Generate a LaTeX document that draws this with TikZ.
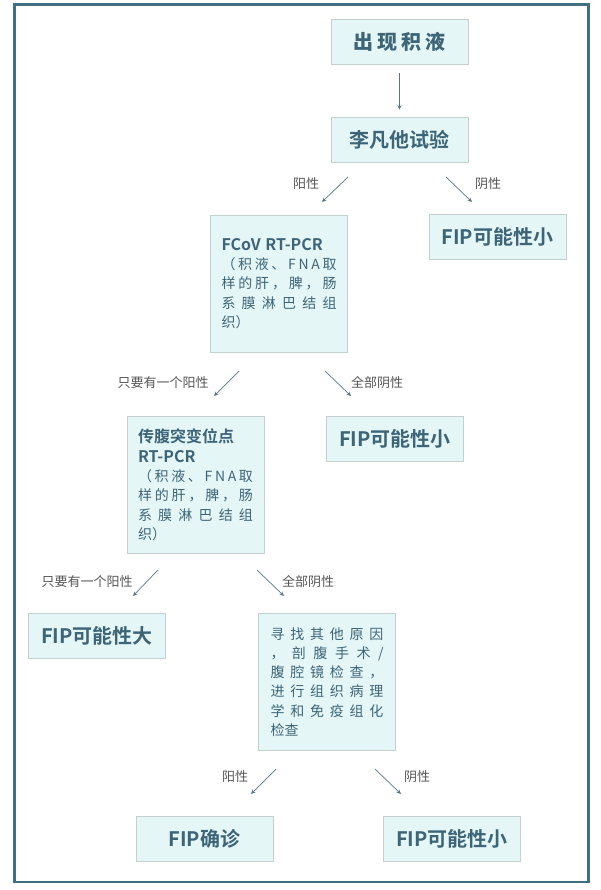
\documentclass[tikz,border=0pt]{standalone}
\usepackage{fontspec}
\setmainfont{Noto Sans CJK SC}[BoldFont={Noto Sans CJK SC Bold}]
\newfontfamily\wide{Noto Sans CJK SC Bold}[LetterSpace=20]
\usetikzlibrary{arrows.meta}
\definecolor{frameblue}{HTML}{3F6F80}
\definecolor{boxfill}{HTML}{E5F6F7}
\definecolor{boxline}{HTML}{C5CFD0}
\definecolor{textblue}{HTML}{3D6577}
\definecolor{arrowgray}{HTML}{567683}
\definecolor{labelgray}{HTML}{555555}
\newcommand\jline[2][115pt]{\makebox[#1][s]{\spaceskip=0pt plus 1fil\relax #2}}

\begin{document}
\begin{tikzpicture}[x=1pt,y=-1pt,
    box/.style={draw=boxline, fill=boxfill, line width=0.8pt, text=textblue,
        minimum width=137pt, minimum height=45pt, inner sep=0pt,
        font=\fontsize{20}{24}\selectfont\bfseries},
    tallbox/.style={box, minimum height=137pt, text width=115pt, align=left,
        font=\fontsize{14}{19.3}\selectfont},
    lbl/.style={text=labelgray, font=\fontsize{13}{15}\selectfont, inner sep=0pt},
    arr/.style={draw=arrowgray, line width=0.7pt, -{Stealth[length=4.5pt,width=4pt]}}]
    \useasboundingbox (0,0) rectangle (600,890);
    \draw[frameblue, line width=2.6pt] (14.5,4.5) rectangle (588.5,882);

    \node[box] (sym) at (399.5,41.5) {\wide 出现积液};
    \node[box] (riv) at (399.5,139.5) {李凡他试验};
    \node[tallbox] (fcov) at (279,283.5) {{\bfseries\fontsize{16}{19.3}\selectfont FCoV RT-PCR}\\
        \jline{（ 积 液 、 F N A 取}\\\jline{样 的 肝 ， 脾 ， 肠}\\\jline{系 膜 淋 巴 结 组}\\织）};
    \node[box] (neg1) at (497.5,237) {FIP可能性小};
    \node[tallbox] (mut) at (195.5,485) {{\bfseries\fontsize{16}{19.3}\selectfont 传腹突变位点}\\
        {\bfseries\fontsize{16}{19.3}\selectfont RT-PCR}\\
        \jline{（ 积 液 、 F N A 取}\\\jline{样 的 肝 ， 脾 ， 肠}\\\jline{系 膜 淋 巴 结 组}\\织）};
    \node[box] (neg2) at (395,439) {FIP可能性小};
    \node[box] (high) at (97,635.5) {FIP可能性大};
    \node[tallbox, text width=113pt] (other) at (327,682) {\jline[113pt]{寻 找 其 他 原 因}\\
        \jline[113pt]{， 剖 腹 手 术 /}\\\jline[113pt]{腹 腔 镜 检 查 ，}\\
        \jline[113pt]{进 行 组 织 病 理}\\\jline[113pt]{学 和 免 疫 组 化}\\检查};
    \node[box] (conf) at (204.5,838.5) {FIP确诊};
    \node[box] (neg3) at (452,838.5) {FIP可能性小};

    \draw[arr, shorten <=9pt, shorten >=7pt] (sym) -- (riv);

    % branches
    \coordinate (r1a) at (348,177); \coordinate (r1b) at (322,202);
    \coordinate (r2a) at (446,177); \coordinate (r2b) at (472,202);
    \coordinate (f1a) at (239,371); \coordinate (f1b) at (214,396);
    \coordinate (f2a) at (325,371); \coordinate (f2b) at (351,396);
    \coordinate (m1a) at (158,570); \coordinate (m1b) at (133,596);
    \coordinate (m2a) at (257,570); \coordinate (m2b) at (284,596);
    \coordinate (o1a) at (276,769); \coordinate (o1b) at (251,794);
    \coordinate (o2a) at (375,769); \coordinate (o2b) at (401,794);
    \draw[arr] (r1a) -- (r1b);
    \draw[arr] (r2a) -- (r2b);
    \draw[arr] (f1a) -- (f1b);
    \draw[arr] (f2a) -- (f2b);
    \draw[arr] (m1a) -- (m1b);
    \draw[arr] (m2a) -- (m2b);
    \draw[arr] (o1a) -- (o1b);
    \draw[arr] (o2a) -- (o2b);

    \node[lbl] (r1l) at (306,184) {阳性};
    \node[lbl] (r2l) at (488,184) {阴性};
    \node[lbl] (f1l) at (163,383) {只要有一个阳性};
    \node[lbl] (f2l) at (377,383) {全部阴性};
    \node[lbl] (m1l) at (87,582) {只要有一个阳性};
    \node[lbl] (m2l) at (308,582) {全部阴性};
    \node[lbl] (o1l) at (235,777) {阳性};
    \node[lbl] (o2l) at (417,777) {阴性};
\end{tikzpicture}
\end{document}
